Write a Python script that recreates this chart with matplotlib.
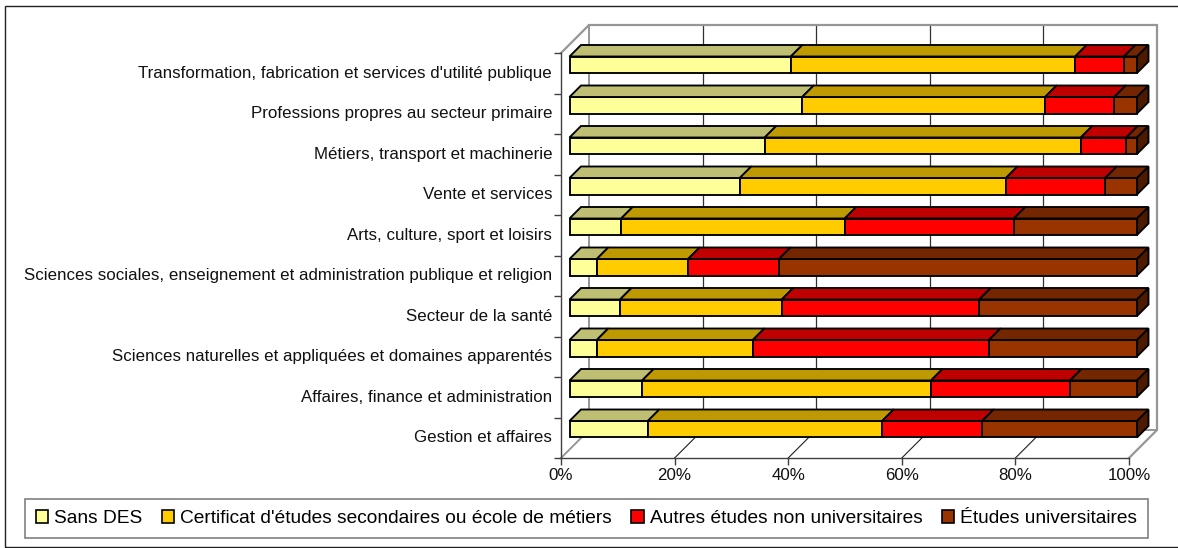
"""Stacked 3D-look bars: education level by occupation group."""
import matplotlib
matplotlib.use("Agg")
import matplotlib.pyplot as plt
from matplotlib.patches import Patch, Polygon, Rectangle

plt.rcParams["font.family"] = ["Liberation Sans", "DejaVu Sans"]

W, H = 1178, 548

categories = [
    "Transformation, fabrication et services d'utilité publique",
    "Professions propres au secteur primaire",
    "Métiers, transport et machinerie",
    "Vente et services",
    "Arts, culture, sport et loisirs",
    "Sciences sociales, enseignement et administration publique et religion",
    "Secteur de la santé",
    "Sciences naturelles et appliquées et domaines apparentés",
    "Affaires, finance et administration",
    "Gestion et affaires",
]
sans_des = [39.0, 41.0, 34.4, 30.0, 9.1, 4.8, 8.9, 4.8, 12.8, 13.8]
secondaire = [50.1, 42.8, 55.7, 46.9, 39.4, 16.1, 28.5, 27.5, 50.9, 41.3]
non_univ = [8.6, 12.2, 8.0, 17.5, 29.8, 16.0, 34.8, 41.6, 24.5, 17.6]
univ = [2.3, 4.0, 1.9, 5.6, 21.7, 63.1, 27.8, 26.1, 11.8, 27.3]
series_names = ["Sans DES", "Certificat d'études secondaires ou école de métiers",
                "Autres études non universitaires", "Études universitaires"]
series = [sans_des, secondaire, non_univ, univ]
face_colors = ["#FFFF99", "#FFCC00", "#FF0000", "#993300"]
top_colors = ["#BFBF73", "#BF9900", "#BF0000", "#732600"]
side_color = "#4D1A00"
xticks = [0, 20, 40, 60, 80, 100]
xticklabels = ["0%", "20%", "40%", "60%", "80%", "100%"]

# plot box in pixels (front plane)
LEFT, RIGHT, TOP, BOTTOM = 561, 1129, 53, 458
fig = plt.figure(figsize=(W / 100, H / 100), dpi=100, facecolor="white")
ax = fig.add_axes([LEFT / W, 1 - BOTTOM / H, (RIGHT - LEFT) / W, (BOTTOM - TOP) / H])
ax.set_xlim(0, 100)
ax.set_ylim(len(categories) - 0.5, -0.5)
ax.patch.set_visible(False)

ux = (RIGHT - LEFT) / 100   # pixels per percent
uy = (BOTTOM - TOP) / len(categories)   # pixels per category
wall_dx, wall_dy = 28 / ux, 28 / uy
shift_dx, shift_dy = 8.5 / ux, 8.5 / uy
depth_dx, depth_dy = 11.5 / ux, 11.5 / uy
scale_x = (1137 - 569.5) / (RIGHT - LEFT)
bar_h = 16.5 / uy

y0, y1 = len(categories) - 0.5, -0.5
GREY = "#969696"
BAR_LW = 1.35

# back wall, floor, grid
for t in xticks[1:-1]:
    ax.plot([t, t + wall_dx], [y0, y0 - wall_dy], color="#202020", lw=0.8, zorder=1, clip_on=False)
    ax.plot([t + wall_dx] * 2, [y0 - wall_dy, y1 - wall_dy], color="#303030", lw=0.9, zorder=1, clip_on=False)
ax.plot([wall_dx] * 2, [y0 - wall_dy, y1 - wall_dy], color=GREY, lw=1.4, zorder=1, clip_on=False)
ax.plot([0, wall_dx, 100 + wall_dx, 100 + wall_dx, 100],
        [y1, y1 - wall_dy, y1 - wall_dy, y0 - wall_dy, y0],
        color=GREY, lw=1.6, zorder=1, clip_on=False, solid_joinstyle="miter")
ax.plot([wall_dx, 100 + wall_dx], [y0 - wall_dy] * 2, color=GREY, lw=1.4, zorder=1, clip_on=False)
ax.plot([0, wall_dx], [y0, y0 - wall_dy], color=GREY, lw=1.4, zorder=1, clip_on=False)

# bars: front faces through barh, tops and end cap as polygons
ypos = [i - shift_dy for i in range(len(categories))]
left_vals = [0] * len(categories)
for values, face, top in zip(series, face_colors, top_colors):
    starts = [shift_dx + a * scale_x for a in left_vals]
    widths = [v * scale_x for v in values]
    ax.barh(ypos, widths, left=starts, height=bar_h, color=face, edgecolor="black",
            linewidth=BAR_LW, zorder=3, clip_on=False)
    for y, s, w in zip(ypos, starts, widths):
        yt = y - bar_h / 2
        ax.add_patch(Polygon([(s, yt), (s + w, yt), (s + w + depth_dx, yt - depth_dy), (s + depth_dx, yt - depth_dy)],
                             closed=True, facecolor=top, edgecolor="black", linewidth=BAR_LW,
                             zorder=3, clip_on=False))
    left_vals = [a + v for a, v in zip(left_vals, values)]

for y, a in zip(ypos, left_vals):
    xe = shift_dx + a * scale_x
    yt, yb = y - bar_h / 2, y + bar_h / 2
    ax.add_patch(Polygon([(xe, yt), (xe + depth_dx, yt - depth_dy), (xe + depth_dx, yb - depth_dy), (xe, yb)],
                         closed=True, facecolor=side_color, edgecolor="black", linewidth=BAR_LW,
                         zorder=3, clip_on=False))

# axes
for name in ["top", "right"]:
    ax.spines[name].set_visible(False)
ax.spines["left"].set_color("#404040")
ax.spines["bottom"].set_color("#404040")
ax.spines["left"].set_linewidth(1.0)
ax.spines["bottom"].set_linewidth(1.0)
ax.set_xticks(xticks)
ax.set_xticklabels(xticklabels, fontsize=12.2, color="#111111")
ax.set_yticks([i - 0.5 for i in range(len(categories) + 1)])
ax.set_yticklabels([])
ax.tick_params(axis="both", length=5, width=1.0, color="#404040")
ax.tick_params(axis="x", pad=2.5)
for i, label in enumerate(categories):
    ax.text(-1.55, i, label, ha="right", va="center", fontsize=12.2, color="#111111")

# legend
handles = [Patch(facecolor=f, edgecolor="black", linewidth=1.2) for f in face_colors]
leg = fig.legend(handles, series_names, loc="center", ncol=4, fontsize=13.8,
                 bbox_to_anchor=(586.5 / W, 1 - 518.5 / H), frameon=True, fancybox=False,
                 edgecolor="#808080", framealpha=1, handlelength=0.65, handleheight=0.65,
                 handletextpad=0.3, columnspacing=1.02, borderpad=0.55, borderaxespad=0)
leg.get_frame().set_linewidth(1.2)

# outer frame, its right side runs off the picture
fig.add_artist(Rectangle((5 / W, 1 / H), (W + 5) / W, (H - 7) / H, transform=fig.transFigure,
                         fill=False, edgecolor="#222222", linewidth=1.0))

fig.savefig("out.png", dpi=100)
